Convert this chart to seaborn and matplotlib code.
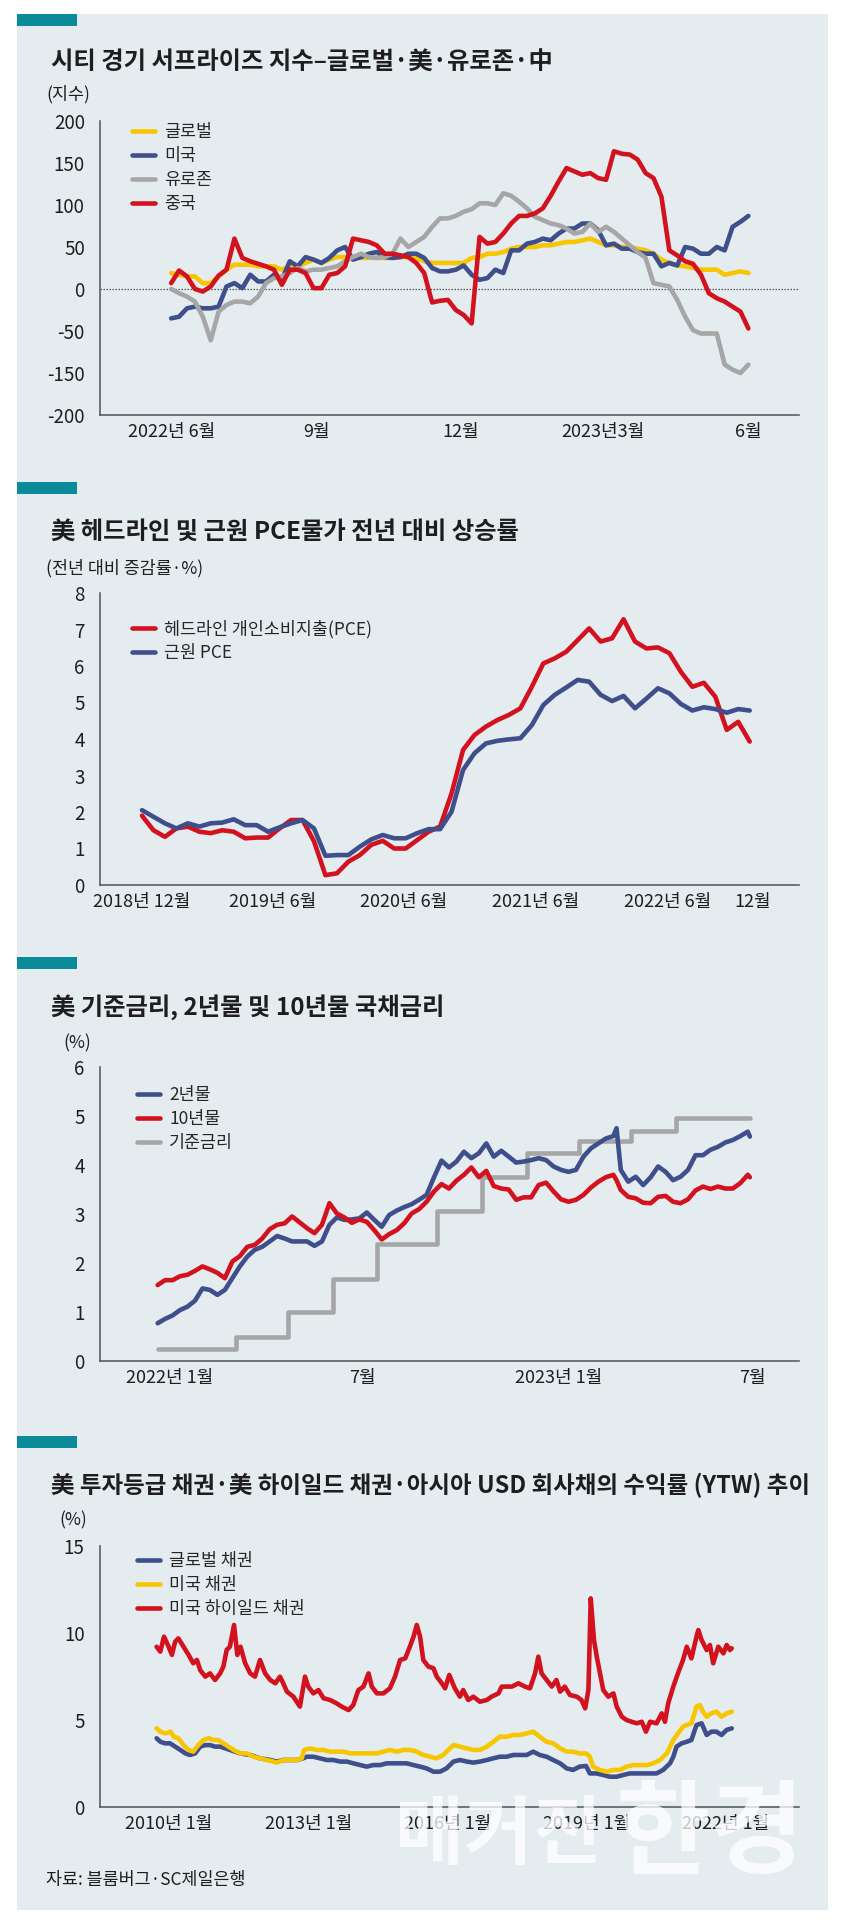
import numpy as np
import pandas as pd
import seaborn as sns
import matplotlib.pyplot as plt
from matplotlib.patches import Rectangle

# ---------------- data ----------------
# 1) Citi economic surprise index, one reading every 5 days from 2022-06-01
citi_start = '2022-06-01'
citi_global = [19, 17, 15, 15, 7, 7, 15, 23, 29, 29,
               29, 27, 27, 27, 23, 27, 27, 31, 35, 31,
               35, 38, 38, 37, 37, 37, 37, 37, 37, 38,
               38, 37, 33, 31, 31, 31, 31, 31, 37, 38,
               42, 42, 44, 48, 50, 50, 50, 52, 52, 54,
               56, 56, 58, 60, 56, 52, 52, 50, 50, 48,
               46, 42, 35, 31, 28, 27, 25, 23, 23, 23,
               17, 19, 21, 19]
citi_us = [-35, -33, -23, -21, -23, -23, -21, 3, 7, 1,
           17, 9, 9, 17, 11, 33, 27, 38, 35, 31,
           37, 46, 50, 35, 38, 42, 44, 38, 37, 38,
           42, 42, 37, 25, 21, 21, 23, 28, 17, 11,
           13, 23, 19, 46, 46, 54, 56, 60, 58, 66,
           72, 72, 78, 78, 70, 52, 54, 48, 48, 44,
           42, 42, 27, 31, 28, 50, 48, 42, 42, 50,
           46, 74, 80, 87]
citi_euro = [0, -5, -9, -15, -33, -61, -27, -19, -15, -15,
             -17, -9, 7, 13, 15, 19, 25, 21, 23, 23,
             25, 27, 33, 38, 42, 38, 37, 38, 42, 60,
             50, 56, 62, 74, 84, 84, 87, 92, 95, 102,
             102, 100, 114, 111, 104, 96, 86, 82, 78, 76,
             72, 66, 68, 78, 68, 74, 68, 60, 52, 44,
             37, 7, 5, 3, -13, -33, -49, -53, -53, -53,
             -90, -96, -100, -90]
citi_china = [7, 22, 15, 0, -3, 3, 16, 23, 60, 37,
              33, 30, 27, 23, 5, 23, 23, 19, 1, 1,
              17, 19, 27, 60, 58, 56, 52, 42, 42, 40,
              38, 31, 19, -16, -14, -13, -25, -31, -41, 62,
              54, 56, 66, 78, 87, 87, 90, 96, 111, 128,
              144, 140, 136, 138, 132, 130, 164, 161, 160, 154,
              138, 132, 110, 46, 40, 33, 30, 17, -5, -11,
              -15, -21, -27, -47]
citi_yticks = [200, 150, 100, 50, 0, -50, -100, -150]
citi_ylabels = ['200', '150', '100', '50', '0', '-50', '-150', '-200']
citi_xticks = ['2022-06-01', '2022-09-01', '2022-12-01', '2023-03-01', '2023-06-01']
citi_xlabels = ['2022년 6월', '9월', '12월', '2023년3월', '6월']

# 2) US PCE inflation (YoY %), monthly
pce_headline = [1.9, 1.5, 1.32, 1.55, 1.6, 1.46, 1.42, 1.5, 1.46, 1.28,
                1.3, 1.3, 1.55, 1.78, 1.78, 1.2, 0.27, 0.32, 0.64, 0.82,
                1.1, 1.21, 1.0, 1.0, 1.23, 1.46, 1.6, 2.51, 3.7, 4.11,
                4.34, 4.52, 4.66, 4.84, 5.43, 6.07, 6.21, 6.39, 6.71, 7.03,
                6.67, 6.76, 7.28, 6.67, 6.48, 6.51, 6.35, 5.84, 5.43, 5.54,
                5.16, 4.25, 4.47, 3.93]
pce_core = [2.05, 1.87, 1.69, 1.55, 1.69, 1.6, 1.69, 1.71, 1.8, 1.64,
            1.64, 1.46, 1.58, 1.69, 1.78, 1.55, 0.8, 0.82, 0.82, 1.05,
            1.25, 1.37, 1.28, 1.28, 1.42, 1.53, 1.53, 2.01, 3.15, 3.61,
            3.88, 3.95, 3.99, 4.02, 4.38, 4.93, 5.21, 5.41, 5.62, 5.57,
            5.21, 5.04, 5.18, 4.84, 5.11, 5.39, 5.25, 4.96, 4.78, 4.87,
            4.82, 4.72, 4.82, 4.78]
pce_xticks = [0, 11.4, 22.8, 34.3, 45.8, 53.3]
pce_xlabels = ['2018년 12월', '2019년 6월', '2020년 6월', '2021년 6월', '2022년 6월', '12월']

# 3) policy rate, 2y and 10y Treasury yields (weekly from 2022-01-03 + two extra days)
ust_start = '2022-01-03'
ust_2y = [0.77, 0.86, 0.93, 1.04, 1.11, 1.23, 1.48, 1.45, 1.35, 1.45,
          1.69, 1.93, 2.13, 2.27, 2.33, 2.44, 2.55, 2.50, 2.44, 2.44,
          2.44, 2.35, 2.44, 2.78, 2.93, 2.88, 2.89, 2.91, 3.03, 2.88,
          2.74, 2.98, 3.07, 3.14, 3.20, 3.29, 3.39, 3.75, 4.09, 3.95,
          4.07, 4.27, 4.14, 4.24, 4.44, 4.17, 4.29, 4.17, 4.05, 4.07,
          4.10, 4.14, 4.10, 3.97, 3.90, 3.86, 3.90, 4.17, 4.34, 4.44,
          4.54, 4.59, 3.90, 3.66, 3.76, 3.59, 3.75, 3.97, 3.86, 3.69,
          3.76, 3.90, 4.20, 4.20, 4.31, 4.37, 4.46, 4.51, 4.59, 4.68]
ust_10y = [1.55, 1.65, 1.65, 1.73, 1.76, 1.84, 1.93, 1.87, 1.80, 1.69,
           2.03, 2.14, 2.33, 2.37, 2.50, 2.69, 2.78, 2.81, 2.95, 2.83,
           2.71, 2.61, 2.78, 3.22, 3.01, 2.93, 2.82, 2.89, 2.84, 2.67,
           2.48, 2.59, 2.67, 2.81, 3.01, 3.10, 3.25, 3.46, 3.61, 3.52,
           3.68, 3.80, 3.95, 3.75, 3.88, 3.57, 3.52, 3.50, 3.29, 3.34,
           3.34, 3.59, 3.64, 3.46, 3.30, 3.25, 3.29, 3.39, 3.54, 3.66,
           3.75, 3.80, 3.49, 3.35, 3.32, 3.23, 3.22, 3.35, 3.37, 3.25,
           3.22, 3.30, 3.48, 3.56, 3.51, 3.56, 3.52, 3.52, 3.63, 3.80]
ust_extra_dates = ['2023-03-09', '2023-07-12']
ust_extra_2y = [4.75, 4.58]
ust_extra_10y = [3.69, 3.75]
fed_dates = ['2022-01-03', '2022-03-17', '2022-05-05', '2022-06-16', '2022-07-28', '2022-09-22',
             '2022-11-03', '2022-12-15', '2023-02-02', '2023-03-23', '2023-05-04', '2023-07-12']
fed_rate = [0.25, 0.5, 1.0, 1.67, 2.38, 3.07, 3.76, 4.24, 4.48, 4.69, 4.95, 4.95]
ust_xticks = ['2022-01-14', '2022-07-14', '2023-01-14', '2023-07-14']
ust_xlabels = ['2022년 1월', '7월', '2023년 1월', '7월']

# 4) bond yields (YTW, %), x in fractional years of the chart's own axis
hy_x = [2009.73, 2009.81, 2009.89, 2009.99, 2010.06, 2010.13, 2010.20, 2010.31, 2010.42, 2010.52,
        2010.60, 2010.67, 2010.78, 2010.88, 2010.99, 2011.10, 2011.17, 2011.24, 2011.31, 2011.40,
        2011.47, 2011.54, 2011.64, 2011.75, 2011.85, 2011.96, 2012.07, 2012.18, 2012.29, 2012.39,
        2012.46, 2012.54, 2012.68, 2012.82, 2012.93, 2013.00, 2013.11, 2013.22, 2013.33, 2013.47,
        2013.61, 2013.72, 2013.87, 2013.97, 2014.08, 2014.19, 2014.30, 2014.37, 2014.48, 2014.62,
        2014.76, 2014.87, 2014.98, 2015.09, 2015.19, 2015.27, 2015.34, 2015.41, 2015.48, 2015.59,
        2015.70, 2015.77, 2015.88, 2015.95, 2016.04, 2016.16, 2016.27, 2016.34, 2016.45, 2016.56,
        2016.70, 2016.85, 2016.95, 2017.10, 2017.17, 2017.28, 2017.39, 2017.53, 2017.67, 2017.78,
        2017.89, 2017.96, 2018.03, 2018.14, 2018.25, 2018.35, 2018.43, 2018.53, 2018.64, 2018.79,
        2018.89, 2018.97, 2019.04, 2019.09, 2019.16, 2019.22, 2019.29, 2019.36, 2019.47, 2019.58,
        2019.65, 2019.76, 2019.86, 2019.97, 2020.08, 2020.19, 2020.28, 2020.37, 2020.51, 2020.62,
        2020.69, 2020.76, 2020.87, 2020.97, 2021.08, 2021.16, 2021.26, 2021.37, 2021.41, 2021.48,
        2021.59, 2021.66, 2021.73, 2021.84, 2021.95, 2022.02, 2022.09, 2022.13]
hy_y = [9.21, 8.93, 9.79, 9.21, 8.74, 9.50, 9.69, 9.21, 8.74, 8.26,
        8.45, 7.87, 7.49, 7.68, 7.30, 7.68, 8.07, 9.02, 9.21, 10.46,
        8.74, 9.21, 8.26, 7.68, 7.49, 8.45, 7.68, 7.30, 7.11, 7.49,
        7.11, 6.63, 6.34, 5.77, 7.49, 6.92, 6.53, 6.72, 6.25, 6.15,
        5.96, 5.77, 5.57, 5.86, 6.72, 6.92, 7.68, 6.92, 6.53, 6.53,
        6.82, 7.49, 8.45, 8.54, 9.21, 9.79, 10.46, 9.79, 8.45, 8.07,
        7.97, 7.49, 7.11, 6.82, 7.59, 6.82, 6.34, 6.72, 6.15, 6.34,
        6.05, 6.15, 6.34, 6.53, 6.92, 6.92, 6.92, 7.11, 6.92, 6.82,
        7.68, 8.64, 7.68, 7.30, 6.92, 7.30, 6.63, 6.92, 6.44, 6.34,
        6.15, 5.67, 6.72, 11.99, 9.60, 8.64, 7.68, 6.72, 6.34, 6.53,
        5.77, 5.19, 5.00, 4.90, 4.81, 4.90, 4.33, 4.90, 4.81, 5.38,
        4.90, 5.96, 6.92, 7.68, 8.45, 9.21, 8.54, 9.79, 10.17, 9.60,
        9.02, 9.31, 8.26, 9.21, 8.83, 9.31, 9.02, 9.12]
us_x = [2009.73, 2009.81, 2009.92, 2010.03, 2010.10, 2010.20, 2010.31, 2010.42, 2010.52, 2010.63,
        2010.74, 2010.85, 2010.96, 2011.06, 2011.17, 2011.28, 2011.39, 2011.53, 2011.68, 2011.82,
        2011.96, 2012.10, 2012.25, 2012.32, 2012.46, 2012.61, 2012.75, 2012.86, 2012.91, 2013.04,
        2013.18, 2013.33, 2013.47, 2013.61, 2013.76, 2013.90, 2014.04, 2014.19, 2014.33, 2014.48,
        2014.62, 2014.76, 2014.91, 2015.05, 2015.19, 2015.34, 2015.48, 2015.63, 2015.77, 2015.91,
        2015.98, 2016.13, 2016.27, 2016.42, 2016.56, 2016.70, 2016.85, 2016.99, 2017.13, 2017.28,
        2017.42, 2017.56, 2017.71, 2017.85, 2017.99, 2018.14, 2018.28, 2018.43, 2018.57, 2018.71,
        2018.85, 2018.99, 2019.07, 2019.14, 2019.29, 2019.43, 2019.58, 2019.72, 2019.86, 2020.01,
        2020.15, 2020.30, 2020.44, 2020.58, 2020.73, 2020.87, 2020.97, 2021.08, 2021.16, 2021.26,
        2021.37, 2021.44, 2021.51, 2021.59, 2021.69, 2021.80, 2021.91, 2022.02, 2022.13]
us_y = [4.52, 4.33, 4.23, 4.33, 4.04, 3.95, 3.56, 3.28, 3.18, 3.56,
        3.85, 3.95, 3.85, 3.85, 3.66, 3.47, 3.28, 3.08, 3.08, 2.89,
        2.80, 2.70, 2.61, 2.55, 2.70, 2.70, 2.70, 2.80, 3.28, 3.37,
        3.28, 3.28, 3.18, 3.18, 3.18, 3.08, 3.08, 3.08, 3.08, 3.08,
        3.18, 3.28, 3.18, 3.28, 3.28, 3.18, 2.99, 2.89, 2.80, 2.99,
        3.18, 3.56, 3.47, 3.37, 3.28, 3.28, 3.47, 3.75, 4.04, 4.04,
        4.14, 4.14, 4.23, 4.33, 4.04, 3.75, 3.66, 3.37, 3.18, 3.18,
        3.08, 3.08, 2.89, 2.32, 2.13, 2.03, 2.13, 2.13, 2.32, 2.41,
        2.41, 2.41, 2.51, 2.70, 3.08, 3.85, 4.23, 4.62, 4.71, 4.81,
        5.77, 5.86, 5.48, 5.19, 5.38, 5.48, 5.19, 5.38, 5.48]
glb_x = [2009.73, 2009.81, 2009.91, 2010.02, 2010.13, 2010.24, 2010.35, 2010.45, 2010.56, 2010.67,
         2010.78, 2010.88, 2010.99, 2011.10, 2011.21, 2011.31, 2011.53, 2011.75, 2011.96, 2012.18,
         2012.32, 2012.46, 2012.61, 2012.75, 2012.89, 2012.97, 2013.11, 2013.25, 2013.40, 2013.54,
         2013.69, 2013.83, 2013.97, 2014.12, 2014.26, 2014.40, 2014.55, 2014.69, 2014.84, 2014.98,
         2015.12, 2015.27, 2015.41, 2015.55, 2015.70, 2015.84, 2015.98, 2016.13, 2016.27, 2016.42,
         2016.56, 2016.70, 2016.85, 2016.99, 2017.13, 2017.28, 2017.42, 2017.56, 2017.71, 2017.85,
         2017.99, 2018.14, 2018.28, 2018.43, 2018.57, 2018.71, 2018.85, 2018.99, 2019.07, 2019.21,
         2019.36, 2019.50, 2019.65, 2019.79, 2019.93, 2020.08, 2020.22, 2020.37, 2020.51, 2020.65,
         2020.80, 2020.87, 2020.94, 2021.05, 2021.16, 2021.26, 2021.37, 2021.48, 2021.59, 2021.69,
         2021.80, 2021.91, 2022.02, 2022.13]
glb_y = [3.95, 3.75, 3.66, 3.66, 3.47, 3.28, 3.08, 2.99, 3.08, 3.47,
         3.56, 3.56, 3.47, 3.47, 3.37, 3.28, 3.08, 2.99, 2.80, 2.70,
         2.61, 2.70, 2.70, 2.70, 2.80, 2.89, 2.89, 2.80, 2.70, 2.70,
         2.61, 2.61, 2.51, 2.41, 2.32, 2.41, 2.41, 2.51, 2.51, 2.51,
         2.51, 2.41, 2.32, 2.22, 2.03, 2.03, 2.22, 2.61, 2.70, 2.61,
         2.55, 2.61, 2.70, 2.80, 2.89, 2.89, 2.99, 2.99, 2.99, 3.18,
         2.99, 2.89, 2.70, 2.51, 2.22, 2.13, 2.32, 2.36, 1.93, 1.93,
         1.84, 1.74, 1.74, 1.84, 1.93, 1.93, 1.93, 1.93, 1.93, 2.13,
         2.51, 2.89, 3.47, 3.66, 3.75, 3.85, 4.71, 4.81, 4.14, 4.33,
         4.33, 4.14, 4.43, 4.52]
bond_xticks = [2010, 2013, 2016, 2019, 2022]
bond_xlabels = ['2010년 1월', '2013년 1월', '2016년 1월', '2019년 1월', '2022년 1월']

# ---------------- style ----------------
sns.set_style("white")
plt.rcParams['font.family'] = ['Noto Sans CJK KR', 'DejaVu Sans']
plt.rcParams['axes.unicode_minus'] = False

W, H = 844, 1922
BG = '#e4ecf0'
TEAL = '#0b8b99'
YELLOW = '#f7c600'
NAVY = '#3f4f8c'
GRAY = '#a6a6a6'
RED = '#d2121e'
INK = '#1e1e1e'
AXIS = '#5a5f63'
LW = 3.3

fig = plt.figure(figsize=(W / 100, H / 100), dpi=100)
fig.patch.set_facecolor('white')
# panel background + teal markers
fig.add_artist(Rectangle((17 / W, 1 - 1910 / H), (828 - 17) / W, (1910 - 14) / H,
                         transform=fig.transFigure, facecolor=BG, edgecolor='none', zorder=0))
for top in [14, 482, 957, 1436]:
    fig.add_artist(Rectangle((17 / W, 1 - (top + 12) / H), 60 / W, 12 / H,
                             transform=fig.transFigure, facecolor=TEAL, edgecolor='none', zorder=1))


def ftext(x, y, s, **kw):
    fig.text(x / W, 1 - y / H, s, va='center', ha=kw.pop('ha', 'left'), color=kw.pop('color', INK), **kw)


def make_ax(top, bottom, left=100, right=799):
    ax = fig.add_axes([left / W, 1 - bottom / H, (right - left) / W, (bottom - top) / H])
    ax.set_facecolor('none')
    sns.despine(ax=ax)
    for s in ['left', 'bottom']:
        ax.spines[s].set_color(AXIS)
        ax.spines[s].set_linewidth(1.2)
    ax.tick_params(axis='y', direction='out', length=5, width=1, color=AXIS, pad=6,
                   labelsize=13.5, labelcolor=INK)
    ax.tick_params(axis='x', length=0, pad=6, labelsize=13, labelcolor=INK)
    return ax


def finish(ax, order, x, y):
    # seaborn puts the x name ("None" for a DatetimeIndex) on the axis, drop it
    ax.set_xlabel('')
    ax.set_ylabel('')
    h, l = ax.get_legend_handles_labels()
    d = dict(zip(l, h))
    ax.legend([d[k] for k in order], order, loc='upper left',
              bbox_to_anchor=(x / W, 1 - y / H), bbox_transform=fig.transFigure,
              frameon=False, borderpad=0, borderaxespad=0, handlelength=1.3,
              handletextpad=0.55, labelspacing=0.34, fontsize=12.5)


# ---------------- 1. Citi surprise ----------------
ftext(51, 63, '시티 경기 서프라이즈 지수–글로벌·美·유로존·中', fontsize=17.5, fontweight='bold')
ftext(46, 94, '(지수)', fontsize=12.5)
ax1 = make_ax(121, 415)
citi_dates = pd.date_range(citi_start, periods=len(citi_global), freq='5D')
ax1.axhline(0, color='#555', lw=0.9, ls=(0, (1.2, 1.2)), zorder=1)
sns.lineplot(x=citi_dates, y=citi_global, color=YELLOW, lw=LW, label='글로벌', ax=ax1)
sns.lineplot(x=citi_dates, y=citi_us, color=NAVY, lw=LW, label='미국', ax=ax1)
sns.lineplot(x=citi_dates, y=citi_euro, color=GRAY, lw=LW, label='유로존', ax=ax1)
sns.lineplot(x=citi_dates, y=citi_china, color=RED, lw=LW, label='중국', ax=ax1)
ax1.set_ylim(-150, 200)
ax1.set_yticks(citi_yticks)
ax1.set_yticklabels(citi_ylabels)
ax1.set_xlim(pd.Timestamp('2022-04-17'), pd.Timestamp('2023-07-03'))
ax1.set_xticks(pd.to_datetime(citi_xticks))
ax1.set_xticklabels(citi_xlabels)
finish(ax1, ['글로벌', '미국', '유로존', '중국'], 132, 123)

# ---------------- 2. PCE ----------------
ftext(51, 532, '美 헤드라인 및 근원 PCE물가 전년 대비 상승률', fontsize=17.5, fontweight='bold')
ftext(46, 568, '(전년 대비 증감률·%)', fontsize=12.5)
ax2 = make_ax(593, 885)
months = np.arange(len(pce_headline))
sns.lineplot(x=months, y=pce_headline, color=RED, lw=LW, label='헤드라인 개인소비지출(PCE)', ax=ax2)
sns.lineplot(x=months, y=pce_core, color=NAVY, lw=LW, label='근원 PCE', ax=ax2)
ax2.set_ylim(0, 8)
ax2.set_yticks(range(0, 9))
ax2.set_xlim(-3.66, 57.3)
ax2.set_xticks(pce_xticks)
ax2.set_xticklabels(pce_xlabels)
finish(ax2, ['헤드라인 개인소비지출(PCE)', '근원 PCE'], 132, 620)

# ---------------- 3. policy rate & treasuries ----------------
ftext(51, 1007, '美 기준금리, 2년물 및 10년물 국채금리', fontsize=17.5, fontweight='bold')
ftext(63, 1043, '(%)', fontsize=12.5)
ax3 = make_ax(1067, 1361)
ust_dates = pd.date_range(ust_start, periods=len(ust_2y), freq='7D').append(pd.to_datetime(ust_extra_dates))
sns.lineplot(x=pd.to_datetime(fed_dates), y=fed_rate, color=GRAY, lw=LW, drawstyle='steps-post',
             label='기준금리', ax=ax3)
sns.lineplot(x=ust_dates, y=ust_2y + ust_extra_2y, color=NAVY, lw=LW, label='2년물', ax=ax3)
sns.lineplot(x=ust_dates, y=ust_10y + ust_extra_10y, color=RED, lw=LW, label='10년물', ax=ax3)
ax3.set_ylim(0, 6)
ax3.set_yticks(range(0, 7))
ax3.set_xlim(pd.Timestamp('2021-11-10'), pd.Timestamp('2023-08-27'))
ax3.set_xticks(pd.to_datetime(ust_xticks))
ax3.set_xticklabels(ust_xlabels)
finish(ax3, ['2년물', '10년물', '기준금리'], 137, 1086)

# ---------------- 4. bond yields ----------------
ftext(51, 1485, '美 투자등급 채권·美 하이일드 채권·아시아 USD 회사채의 수익률 (YTW) 추이',
      fontsize=16.9, fontweight='bold')
ftext(59, 1520, '(%)', fontsize=12.5)
ax4 = make_ax(1546, 1807)
sns.lineplot(x=glb_x, y=glb_y, color=NAVY, lw=LW, label='글로벌 채권', ax=ax4)
sns.lineplot(x=us_x, y=us_y, color=YELLOW, lw=LW, label='미국 채권', ax=ax4)
sns.lineplot(x=hy_x, y=hy_y, color=RED, lw=LW, label='미국 하이일드 채권', ax=ax4)
ax4.set_ylim(0, 15)
ax4.set_yticks([0, 5, 10, 15])
ax4.set_xlim(2008.51, 2023.58)
ax4.set_xticks(bond_xticks)
ax4.set_xticklabels(bond_xlabels)
finish(ax4, ['글로벌 채권', '미국 채권', '미국 하이일드 채권'], 137, 1552)

ftext(46, 1880, '자료: 블룸버그·SC제일은행', fontsize=12.5)

# watermark
fig.text(498 / W, 1 - 1836 / H, '매거진', fontsize=54, fontweight='bold', color='white', alpha=0.75,
         ha='center', va='center', zorder=10)
fig.text(710 / W, 1 - 1836 / H, '한경', fontsize=74, fontweight='bold', color='white', alpha=0.75,
         ha='center', va='center', zorder=10)

plt.savefig('out.png', dpi=100, facecolor=fig.get_facecolor())
